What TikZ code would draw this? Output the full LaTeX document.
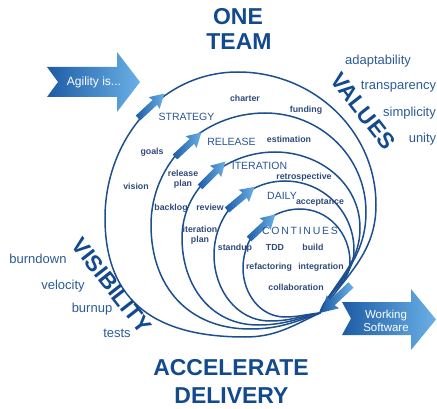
\documentclass[tikz,border=0pt]{standalone}
\usepackage{fontspec}
\setmainfont{Liberation Sans}
\definecolor{titleblue}{HTML}{134A8E}
\definecolor{wordblue}{HTML}{2B5A97}
\definecolor{stageblue}{HTML}{2A5393}
\definecolor{tagblue}{HTML}{2E4A7A}
\definecolor{loopblue}{HTML}{1D4F8E}
\definecolor{adark}{HTML}{1E5CA5}
\definecolor{alight}{HTML}{6AB0E6}
\begin{document}
\begin{tikzpicture}[x=1pt,y=1pt,
  loopline/.style={draw=loopblue, line width=1.5pt},
  title/.style={font=\fontsize{23}{23}\selectfont\bfseries, text=titleblue, inner sep=0pt, anchor=base},
  bigword/.style={font=\fontsize{22.5}{22.5}\selectfont\bfseries, text=titleblue, inner sep=0pt, rotate=-52},
  word/.style={font=\fontsize{13}{13}\selectfont, text=wordblue, inner sep=0pt, anchor=base},
  stage/.style={font=\fontsize{10.5}{10.5}\selectfont, text=stageblue, inner sep=0pt, anchor=base},
  tag/.style={font=\fontsize{8.8}{9.5}\selectfont\bfseries, text=tagblue, inner sep=0pt, text height=6.3pt, text depth=1.8pt},
  tagtwo/.style={font=\fontsize{8.8}{10.5}\selectfont\bfseries, text=tagblue, inner sep=0pt, align=center},
  boxtext/.style={text=white, inner sep=0pt, align=center},
  fatarrow/.pic={
    \shade[left color=adark, right color=alight]
      (0,-3.3) -- (23,-3.3) -- (22,-8) -- (36,0) -- (22,8) -- (23,3.3) -- (0,3.3) -- cycle;
  }
]
\useasboundingbox (0,0) rectangle (437,-409);

% block arrows with notched tails
\shade[left color=adark, right color=alight]
  (47,-67) -- (117,-67) -- (117,-52) -- (140,-82) -- (117,-112) -- (117,-97) -- (47,-97) -- (58,-82) -- cycle;
\node[boxtext, font=\fontsize{12}{12}\selectfont] (agility) at (94,-82) {Agility is...};

\shade[left color=adark, right color=alight]
  (342,-302) -- (411,-302) -- (411,-289) -- (436,-319.5) -- (411,-350) -- (411,-335) -- (342,-335) -- (351,-318.5) -- cycle;
\node[boxtext, font=\fontsize{11.5}{13}\selectfont] (working) at (386,-321) {Working\\Software};

% nested loops meeting at the hub
\coordinate (hub) at (320,-313);
\draw[loopline] (hub) to[out=205,in=0] (245,-337) to[out=180,in=-90,looseness=1.2] (105,-218)
  to[out=90,in=180] (238,-72) to[out=0,in=90] (376,-205) to[out=-90,in=55] (hub);
\draw[loopline] (hub) to[out=200,in=0] (250,-329) to[out=180,in=-90,looseness=1.1] (151,-225)
  to[out=90,in=180] (265,-113) to[out=0,in=90] (366,-212) to[out=-90,in=60] (hub);
\draw[loopline] (hub) to[out=195,in=0] (258,-325) to[out=180,in=-90,looseness=1.05] (182,-238)
  to[out=90,in=180] (275,-152) to[out=0,in=90] (360,-228) to[out=-90,in=65] (hub);
\draw[loopline] (hub) to[out=190,in=0] (270,-321) to[out=180,in=-90] (214,-255)
  to[out=90,in=180] (285,-181) to[out=0,in=90] (354,-250) to[out=-90,in=70] (hub);
\draw[loopline] (hub) to[out=185,in=0] (285,-317) to[out=180,in=-90] (243,-268)
  to[out=90,in=180] (300,-209) to[out=0,in=90] (350,-262) to[out=-90,in=75] (hub);

% direction arrows on the loops
\path (138,-118) pic[rotate=42.8] {fatarrow};
\path (175,-157) pic[rotate=42.8] {fatarrow};
\path (200,-187) pic[rotate=45] {fatarrow};
\path (227,-210) pic[rotate=40] {fatarrow};
\path (249,-239) pic[rotate=43] {fatarrow};
\path (351,-285) pic[rotate=-137, scale=1.12] {fatarrow};

% titles
\node[title] (one) at (238,-24.2) {ONE};
\node[title] (team) at (239,-49.2) {TEAM};
\node[title] (accel) at (231,-375.2) {ACCELERATE};
\node[title] (deliv) at (231.5,-403.2) {DELIVERY};
\node[bigword] (values) at (363,-111) {VALUES};
\node[bigword] (visib) at (112,-286) {VISIBILITY};

% value words
\node[word] (w1) at (378,-64.8) {adaptability};
\node[word] (w2) at (398.5,-89.8) {transparency};
\node[word] (w3) at (409.5,-116.8) {simplicity};
\node[word] (w4) at (422.5,-142.8) {unity};

% visibility words
\node[word] (v1) at (38,-263.8) {burndown};
\node[word] (v2) at (63,-289.8) {velocity};
\node[word] (v3) at (92,-312.8) {burnup};
\node[word] (v4) at (117,-337.8) {tests};

% loop names
\node[stage] (s1) at (186.5,-120.8) {STRATEGY};
\node[stage] (s2) at (231.5,-145.8) {RELEASE};
\node[stage] (s3) at (259.5,-169.8) {ITERATION};
\node[stage] (s4) at (282,-199.8) {DAILY};
\node[stage] (s5) at (300,-234.8) {C\,O\,N\,T\,I\,N\,U\,E\,S};

% practices
\node[tag] (t1) at (245,-99) {charter};
\node[tag] (t2) at (306,-110) {funding};
\node[tag] (t3) at (152,-152) {goals};
\node[tag] (t4) at (289,-140) {estimation};
\node[tag] (t5) at (136,-187) {vision};
\node[tagtwo] (t6) at (183,-179) {release\\plan};
\node[tag] (t7) at (304,-177) {retrospective};
\node[tag] (t8) at (171,-208) {backlog};
\node[tag] (t9) at (210,-208) {review};
\node[tag] (t10) at (320,-202) {acceptance};
\node[tagtwo] (t11) at (200,-235) {iteration\\plan};
\node[tag] (t12) at (235,-248) {standup};
\node[tag] (t13) at (275,-248) {TDD};
\node[tag] (t14) at (313,-248) {build};
\node[tag] (t15) at (269,-267) {refactoring};
\node[tag] (t16) at (321,-267) {integration};
\node[tag] (t17) at (296,-288) {collaboration};
\end{tikzpicture}
\end{document}
